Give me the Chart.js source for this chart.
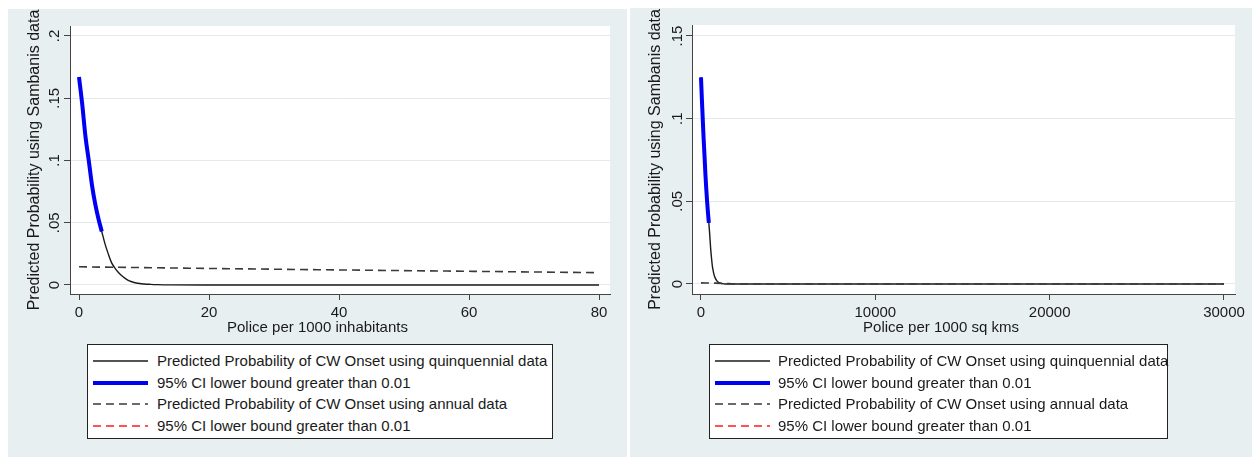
<!DOCTYPE html>
<html>
<head>
<meta charset="utf-8">
<script src="https://cdn.jsdelivr.net/npm/chart.js@4.4.1/dist/chart.umd.min.js"></script>
<style>
  body { margin: 0; background: #fff; font-family: "Liberation Sans", Arial, sans-serif; color: #1a1a1a; }
  #page { position: relative; width: 1252px; height: 457px; overflow: hidden; background: #fff; }
  .panel { position: absolute; background: #e8eff1; }
  .panel canvas { position: absolute; left: 0; top: 0; }
  .xtitle { position: absolute; left: 0; width: 100%; text-align: center; font-size: 15px; line-height: 18px; white-space: nowrap; }
  .legend { position: absolute; background: #fff; border: 1px solid #222; box-sizing: border-box; font-size: 15px; }
  .legend .row { position: absolute; left: 5px; height: 18px; line-height: 18px; white-space: nowrap; }
  .legend svg { position: absolute; left: 0; top: 5px; }
  .legend span { position: absolute; top: 0; }
</style>
</head>
<body>
<div id="page">
  <div class="panel" id="panelL" style="left:8px;top:9px;width:619px;height:448px;">
    <canvas id="chartL" width="619" height="448"></canvas>
    <div class="xtitle" style="top:309px;">Police per 1000 inhabitants</div>
    <div class="legend" id="legendL" style="left:79px;top:335px;width:466px;height:95px;"></div>
  </div>
  <div class="panel" id="panelR" style="left:630px;top:8px;width:622px;height:449px;">
    <canvas id="chartR" width="622" height="449"></canvas>
    <div class="xtitle" style="top:310px;">Police per 1000 sq kms</div>
    <div class="legend" id="legendR" style="left:79px;top:336px;width:459px;height:95px;"></div>
  </div>
</div>
<script>
const TEXT = "#1a1a1a";
const FONT = '"Liberation Sans", Arial, sans-serif';

const yTitle = "Predicted Probability using Sambanis data";
const seriesLabels = [
  "Predicted Probability of CW Onset using quinquennial data",
  "95% CI lower bound greater than 0.01",
  "Predicted Probability of CW Onset using annual data",
  "95% CI lower bound greater than 0.01",
];

// left: police per 1000 inhabitants
const inhabX = [0, 0.5, 1, 1.5, 2, 2.5, 3, 3.5, 4, 4.5, 5, 5.5, 6, 6.5, 7, 7.5, 8, 9, 10, 11, 12, 14, 20, 40, 60, 80];
const inhabQuinq = [0.167, 0.145, 0.119, 0.100, 0.080, 0.065, 0.053, 0.043, 0.033, 0.025, 0.018, 0.0138, 0.0105, 0.0078,
  0.0057, 0.004, 0.0028, 0.0014, 0.0008, 0.0005, 0.0003, 0.0001, 0, 0, 0, 0];
const inhabCiMax = 3.5; // blue part: CI lower bound > 0.01
const inhabAnnX = [0, 20, 40, 60, 80];
const inhabAnnual = [0.0146, 0.0133, 0.0121, 0.0110, 0.0099];
const inhabXTicks = [0, 20, 40, 60, 80];
const inhabYTicks = [0, 0.05, 0.1, 0.15, 0.2];
const inhabYLabels = ["0", ".05", ".1", ".15", ".2"];

// right: police per 1000 sq kms
const sqkmX = [0, 50, 100, 150, 200, 250, 300, 350, 400, 450, 500, 550, 600, 650, 700, 750, 800, 900, 1000, 1100, 1300, 1500,
  5000, 10000, 20000, 30000];
const sqkmQuinq = [0.125, 0.112, 0.100, 0.088, 0.078, 0.067, 0.058, 0.050, 0.043, 0.037, 0.030, 0.022, 0.016, 0.011, 0.008,
  0.0055, 0.004, 0.002, 0.001, 0.0005, 0.0001, 0, 0, 0, 0, 0];
const sqkmCiMax = 450;
const sqkmAnnX = [0, 800, 1600, 2500, 5000, 10000, 20000, 30000];
const sqkmAnnual = [0.0007, 0.0005, 0.0002, 0, 0, 0, 0, 0];
const sqkmXTicks = [0, 10000, 20000, 30000];
const sqkmYTicks = [0, 0.05, 0.1, 0.15];
const sqkmYLabels = ["0", ".05", ".1", ".15"];

const pts = (xs, ys) => xs.map((x, i) => ({ x, y: ys[i] }));

// white plot region + Stata style vertical y tick labels
const plotBg = {
  id: "plotBg",
  beforeDraw(chart) {
    const { ctx, chartArea: a } = chart;
    ctx.save();
    ctx.fillStyle = "#fff";
    ctx.fillRect(a.left, a.top, a.right - a.left, a.bottom - a.top);
    ctx.restore();
  },
};
const yLabels = {
  id: "yLabels",
  afterDraw(chart, args, opts) {
    const y = chart.scales.y, ctx = chart.ctx;
    ctx.save();
    ctx.font = "15px " + FONT;
    ctx.fillStyle = TEXT;
    ctx.textAlign = "center";
    ctx.textBaseline = "middle";
    y.ticks.forEach((t) => {
      ctx.save();
      ctx.translate(opts.x, y.getPixelForValue(t.value));
      ctx.rotate(-Math.PI / 2);
      ctx.fillText(t.label, 0, 0);
      ctx.restore();
    });
    ctx.restore();
  },
};

function makeChart(id, cfg) {
  const ciX = cfg.x.filter((x) => x <= cfg.ciMax);
  const datasets = [
    { label: seriesLabels[0], data: pts(cfg.x, cfg.quinq), borderColor: "#1a1a1a", borderWidth: 1.4, order: 2 },
    { label: seriesLabels[1], data: pts(ciX, cfg.quinq), borderColor: "#0000f2", borderWidth: 4, order: 0 },
    { label: seriesLabels[2], data: pts(cfg.annX, cfg.annual), borderColor: "#3a3a3a", borderWidth: 1.6, borderDash: [8, 5], order: 1 },
    { label: seriesLabels[3], data: [], borderColor: "#ff1a1a", borderWidth: 1.6, borderDash: [8, 5], order: 3 },
  ];
  datasets.forEach((d) => Object.assign(d, { showLine: true, pointRadius: 0, fill: false, cubicInterpolationMode: "monotone" }));

  const chart = new Chart(document.getElementById(id), {
    type: "scatter",
    data: { datasets },
    options: {
      responsive: false,
      animation: false,
      devicePixelRatio: 1,
      layout: { padding: { left: 0, top: cfg.top, right: 17, bottom: 0 } },
      plugins: { legend: { display: false }, tooltip: { enabled: false }, yLabels: { x: cfg.labelX } },
      scales: {
        x: {
          type: "linear", min: cfg.xMin, max: cfg.xMax,
          afterBuildTicks: (s) => { s.ticks = cfg.xTicks.map((v) => ({ value: v })); },
          afterFit: (s) => { s.height = cfg.xAxisH; },
          ticks: { color: TEXT, font: { size: 15, family: FONT }, padding: 4, maxRotation: 0, callback: (v) => String(v) },
          grid: { drawOnChartArea: false, tickLength: 6, tickColor: "#444" },
          border: { color: "#444", width: 1 },
        },
        y: {
          type: "linear", min: cfg.yMin, max: cfg.yMax,
          afterBuildTicks: (s) => { s.ticks = cfg.yTicks.map((v) => ({ value: v })); },
          afterFit: (s) => { s.width = 62; },
          ticks: { display: false, callback: (v) => cfg.yLabels[cfg.yTicks.indexOf(v)] },
          grid: { color: "#e2eaee", lineWidth: 1, tickLength: 6, tickColor: "#444" },
          border: { color: "#444", width: 1 },
          title: { display: true, text: yTitle, color: TEXT, font: { size: 16, family: FONT }, padding: { top: cfg.titlePad, bottom: 0 } },
        },
      },
    },
    plugins: [plotBg, yLabels],
  });

  // legend box, built from the datasets
  const box = document.getElementById(cfg.legend);
  const tops = [7, 28.5, 50, 72];
  box.innerHTML = datasets.map((d, i) => {
    const dash = d.borderDash ? `stroke-dasharray="${d.borderDash.join(" ")}"` : "";
    return `<div class="row" style="top:${tops[i]}px">
      <svg width="56" height="8"><line x1="0" y1="4" x2="55" y2="4" stroke="${d.borderColor}"
        stroke-width="${i === 1 ? 4 : 1.5}" ${dash}/></svg>
      <span style="left:${cfg.textX}px">${d.label}</span></div>`;
  }).join("");
  return chart;
}

makeChart("chartL", {
  x: inhabX, quinq: inhabQuinq, ciMax: inhabCiMax, annX: inhabAnnX, annual: inhabAnnual,
  xTicks: inhabXTicks, yTicks: inhabYTicks, yLabels: inhabYLabels,
  xMin: -1.385, xMax: 81.69, yMin: -0.00723, yMax: 0.208,
  top: 17, xAxisH: 163, labelX: 46.5, titlePad: 17, legend: "legendL", textX: 64,
});
makeChart("chartR", {
  x: sqkmX, quinq: sqkmQuinq, ciMax: sqkmCiMax, annX: sqkmAnnX, annual: sqkmAnnual,
  xTicks: sqkmXTicks, yTicks: sqkmYTicks, yLabels: sqkmYLabels,
  xMin: -516, xMax: 30631, yMin: -0.00605, yMax: 0.15665,
  top: 17, xAxisH: 163, labelX: 48, titlePad: 15.5, legend: "legendR", textX: 63,
});
</script>
</body>
</html>
